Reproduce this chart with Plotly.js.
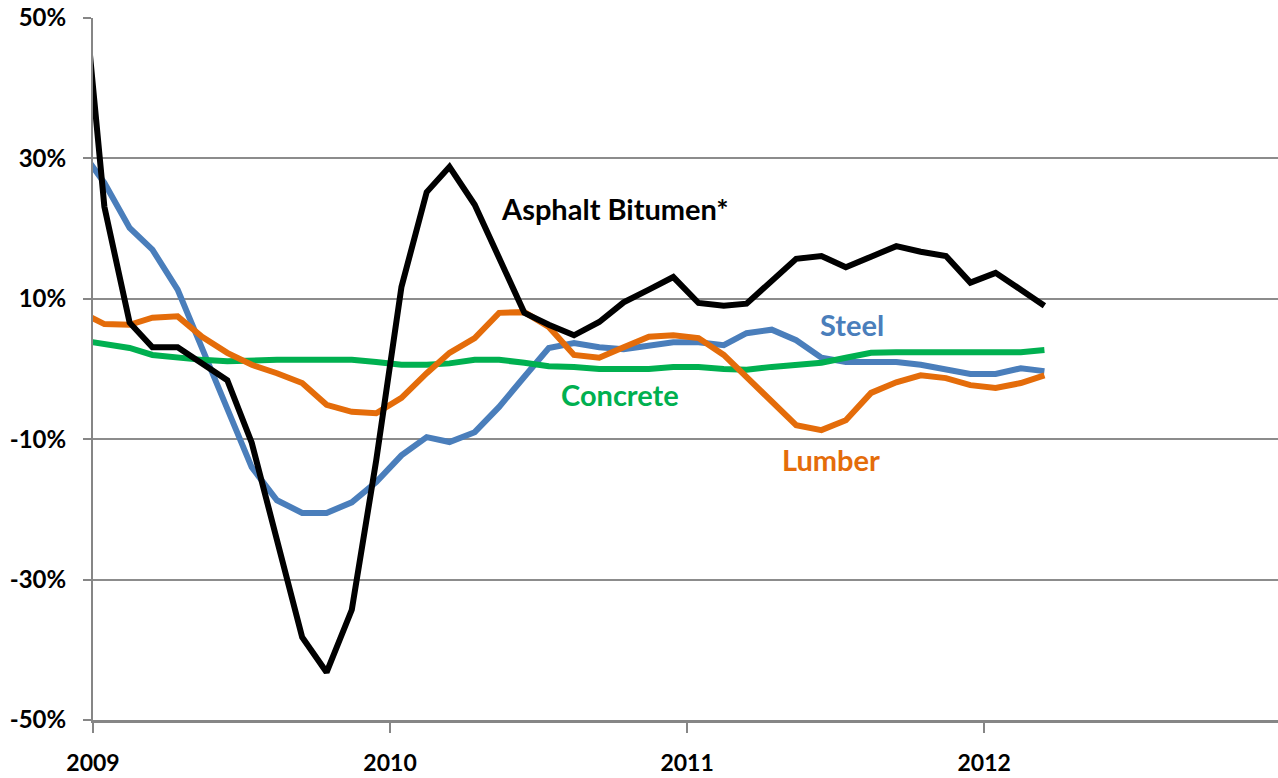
<!DOCTYPE html>
<html>
<head>
<meta charset="utf-8">
<script src="https://cdn.plot.ly/plotly-3.0.1.min.js"></script>
<style>
  html, body { margin: 0; padding: 0; background: #fff; }
  #plot { width: 1278px; height: 778px; }
</style>
</head>
<body>
<div id="plot"></div>
<script>
// Monthly readings, dated mid-month (Dec 2008 is clipped by the axis start)
const months = [
  '2008-12-15',
  '2009-01-15', '2009-02-15', '2009-03-15', '2009-04-15', '2009-05-15', '2009-06-15',
  '2009-07-15', '2009-08-15', '2009-09-15', '2009-10-15', '2009-11-15', '2009-12-15',
  '2010-01-15', '2010-02-15', '2010-03-15', '2010-04-15', '2010-05-15', '2010-06-15',
  '2010-07-15', '2010-08-15', '2010-09-15', '2010-10-15', '2010-11-15', '2010-12-15',
  '2011-01-15', '2011-02-15', '2011-03-15', '2011-04-15', '2011-05-15', '2011-06-15',
  '2011-07-15', '2011-08-15', '2011-09-15', '2011-10-15', '2011-11-15', '2011-12-15',
  '2012-01-15', '2012-02-15', '2012-03-15'
];

// Year-over-year change, %
const asphalt = [61,
  23.1, 6.6, 3.1, 3.1, 0.9, -1.6, -10.5, -24.4, -38.2, -43.2, -34.3, -13.0,
  11.7, 25.2, 28.8, 23.4, 15.8, 8.0, 6.3, 4.8, 6.7, 9.5, 11.3, 13.1,
  9.4, 9.0, 9.3, 12.5, 15.7, 16.1, 14.5, 16.0, 17.5, 16.7, 16.1, 12.3,
  13.7, 11.3, 9.0];

const steel = [31.5,
  26.5, 20.1, 17.0, 11.3, 3.0, -5.8, -14.0, -18.7, -20.5, -20.5, -19.0, -16.1,
  -12.3, -9.7, -10.4, -9.0, -5.4, -1.1, 3.0, 3.7, 3.1, 2.8, 3.4, 3.8,
  3.8, 3.4, 5.1, 5.6, 4.1, 1.6, 1.0, 1.0, 1.0, 0.6, -0.1, -0.7,
  -0.7, 0.1, -0.3];

const lumber = [8.2,
  6.4, 6.3, 7.3, 7.5, 4.6, 2.3, 0.6, -0.6, -2.0, -5.1, -6.1, -6.3,
  -4.1, -0.6, 2.3, 4.4, 8.0, 8.1, 6.0, 2.0, 1.6, 3.1, 4.6, 4.8,
  4.4, 2.0, -1.1, -4.7, -8.0, -8.7, -7.3, -3.4, -1.9, -0.9, -1.3, -2.3,
  -2.7, -2.0, -0.9];

const concrete = [4.1,
  3.6, 3.0, 2.0, 1.6, 1.3, 1.1, 1.3, 1.3, 1.3, 1.3, 1.3, 1.0,
  0.6, 0.6, 0.8, 1.3, 1.3, 0.9, 0.4, 0.3, 0.0, 0.0, 0.0, 0.3,
  0.3, 0.0, -0.1, 0.3, 0.7, 0.9, 1.6, 2.3, 2.4, 2.4, 2.4, 2.4,
  2.4, 2.4, 2.7];

const yearTicks = ['2009-01-01', '2010-01-01', '2011-01-01', '2012-01-01'];
const yearLabels = ['2009', '2010', '2011', '2012'];
const pctTicks = [-50, -30, -10, 10, 30, 50];
const pctLabels = ['-50%', '-30%', '-10%', '10%', '30%', '50%'];

const FONT = 'Lato, "Open Sans", sans-serif';
const AXIS_GRAY = '#868686';

// draw order: steel at the bottom, asphalt on top
const series = [
  { name: 'Steel', y: steel, color: '#4a7ebb' },
  { name: 'Concrete', y: concrete, color: '#00b050' },
  { name: 'Lumber', y: lumber, color: '#e46c0a' },
  { name: 'Asphalt Bitumen*', y: asphalt, color: '#000000' }
];

const traces = series.map(s => ({
  x: months,
  y: s.y,
  type: 'scatter',
  mode: 'lines',
  name: s.name,
  line: { color: s.color, width: 6 },
  hoverinfo: 'x+y+name'
}));

// inline series labels instead of a legend
const labels = [
  { text: 'Asphalt Bitumen*', x: '2010-10-04', y: 22.9, color: '#000000' },
  { text: 'Steel', x: '2011-07-22', y: 6.4, color: '#4a7ebb' },
  { text: 'Concrete', x: '2010-10-10', y: -3.7, color: '#00b050' },
  { text: 'Lumber', x: '2011-06-27', y: -12.9, color: '#e46c0a' }
];

const layout = {
  width: 1278,
  height: 778,
  margin: { l: 93, r: 0, t: 18, b: 58 },
  paper_bgcolor: '#ffffff',
  plot_bgcolor: '#ffffff',
  showlegend: false,
  xaxis: {
    type: 'date',
    range: ['2009-01-01', '2012-12-27'],
    tickvals: yearTicks,
    ticktext: yearLabels,
    ticks: 'outside',
    ticklen: 10,
    tickwidth: 2,
    tickcolor: AXIS_GRAY,
    showline: true,
    linecolor: AXIS_GRAY,
    linewidth: 3,
    showgrid: false,
    zeroline: false,
    ticklabelstandoff: 10,
    tickfont: { family: FONT, size: 23, color: '#000', weight: 700 }
  },
  yaxis: {
    range: [-50, 50],
    tickvals: pctTicks,
    ticktext: pctLabels,
    ticks: 'outside',
    ticklen: 8,
    tickwidth: 2,
    tickcolor: AXIS_GRAY,
    showline: true,
    linecolor: AXIS_GRAY,
    linewidth: 2,
    showgrid: true,
    gridcolor: '#8c8c8c',
    gridwidth: 2,
    zeroline: false,
    ticklabelstandoff: 12,
    tickfont: { family: FONT, size: 24, color: '#000', weight: 700 }
  },
  annotations: labels.map(l => ({
    text: l.text,
    x: l.x,
    y: l.y,
    xref: 'x',
    yref: 'y',
    showarrow: false,
    xanchor: 'center',
    yanchor: 'middle',
    font: { family: FONT, size: 29, color: l.color, weight: 700 }
  }))
};

Plotly.newPlot('plot', traces, layout, { displayModeBar: false, staticPlot: true });
</script>
</body>
</html>
